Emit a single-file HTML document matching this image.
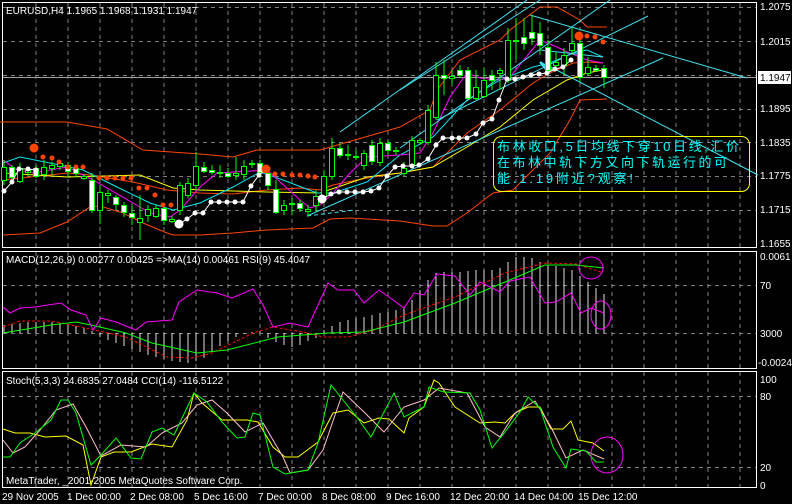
<!DOCTYPE html>
<html><head><meta charset="utf-8"><style>
html,body{margin:0;padding:0;background:#000;}
svg{display:block;}
text{font-family:"Liberation Sans","Noto Sans CJK SC",sans-serif;font-size:10px;fill:#fff;}
</style></head><body>
<svg width="792" height="504" viewBox="0 0 792 504" xmlns="http://www.w3.org/2000/svg">
<rect width="792" height="504" fill="#000"/>
<!-- grids -->
<g stroke="#7f7f7f" stroke-width="1" stroke-dasharray="4,4" fill="none">
<path d="M36 3V247M68 3V247M100 3V247M132 3V247M164 3V247M196 3V247M228 3V247M260 3V247M292 3V247M324 3V247M356 3V247M388 3V247M420 3V247M452 3V247M484 3V247M516 3V247M548 3V247M580 3V247M612 3V247M644 3V247M676 3V247M708 3V247M740 3V247"/>
<path d="M3 7.5H756M3 41.5H756M3 75.5H756M3 109.5H756M3 142.5H756M3 176.5H756M3 210.5H756"/>
<path d="M36 252V368M68 252V368M100 252V368M132 252V368M164 252V368M196 252V368M228 252V368M260 252V368M292 252V368M324 252V368M356 252V368M388 252V368M420 252V368M452 252V368M484 252V368M516 252V368M548 252V368M580 252V368M612 252V368M644 252V368M676 252V368M708 252V368M740 252V368"/>
<path d="M3 285.5H756M3 333.5H756"/>
<path d="M36 372V487M68 372V487M100 372V487M132 372V487M164 372V487M196 372V487M228 372V487M260 372V487M292 372V487M324 372V487M356 372V487M388 372V487M420 372V487M452 372V487M484 372V487M516 372V487M548 372V487M580 372V487M612 372V487M644 372V487M676 372V487M708 372V487M740 372V487"/>
<path d="M3 396.5H756M3 467.5H756"/>
</g>
<line x1="3" y1="77.5" x2="756" y2="77.5" stroke="#a0a0a0"/>
<!-- panel borders -->
<g fill="none" stroke="#fff" stroke-width="1">
<rect x="2.5" y="2.5" width="754" height="245"/>
<rect x="2.5" y="251.5" width="754" height="117"/>
<rect x="2.5" y="371.5" width="754" height="116"/>
</g>
<!-- Bollinger -->
<g fill="none" stroke-width="1">
<polyline stroke="#ff4500" points="0,122 67,122 107,129 143,150 200,154 233,157 257,150 320,150 400,127 430,110 437,90 460,60 500,40 510,30 540,7 557,7 580,20 587,27 607,27"/>
<polyline stroke="#ff4500" points="3,235 40,233 67,222 90,207 100,206 123,213 143,223 167,233 173,235 200,235 233,233 267,230 313,228 330,219 350,218 400,221 433,226 447,226 467,213 493,193 513,190 550,153 570,120 580,100 607,99"/>
<polyline stroke="#ff4500" points="3,180 67,173 90,175 133,182 167,190 200,193 233,194 267,190 300,188 320,190 333,185 367,178 400,173 433,167 467,133 500,110 533,83 550,73 573,63 587,62 603,63"/>
<polyline stroke="#ffff00" points="3,173 67,177 140,175 173,188 200,190 267,192 320,193 367,177 400,173 433,167 467,147 500,127 533,100 567,80 587,73 603,70"/>
<polyline stroke="#00e5ee" points="3,163 20,157 50,163 83,170 117,187 150,203 173,210 200,203 233,187 260,172 283,180 317,193 333,193 367,182 400,155 433,137 467,100 500,80 533,67 550,63 573,53 587,50 603,57"/>
<polyline stroke="#ff00ff" points="3,160 17,170 33,173 67,167 93,180 133,203 150,213 170,217 180,210 200,187 217,173 233,172 267,170 300,200 310,208 320,205 333,193 350,173 367,157 400,155 420,153 433,133 450,97 467,73 480,78 500,80 510,77 540,40 557,47 567,52 580,57 587,60 603,63"/>
</g>
<!-- trend lines -->
<g stroke="#40e0f0" stroke-width="1" fill="none">
<line x1="340" y1="132" x2="527" y2="0"/>
<line x1="400" y1="148" x2="610" y2="0"/>
<line x1="437" y1="120" x2="648" y2="16"/>
<line x1="307" y1="216" x2="663" y2="58"/>
<line x1="530" y1="15" x2="747" y2="78"/>
<line x1="547" y1="65" x2="758" y2="175"/>
<line x1="540" y1="50" x2="603" y2="57"/>
<line x1="307" y1="216" x2="355" y2="210" stroke-dasharray="4,3"/>
<line x1="400" y1="90" x2="540" y2="0"/>
</g>
<path d="M540 62 L552 70 L548 72 Z" fill="#40e0f0" stroke="#40e0f0" stroke-width="2"/>
<!-- candles wicks -->
<g stroke="#00ff00" stroke-width="1" fill="none">
<path d="M4 160V185M12 165V180M20 163V183M28 168V176M36 165V178M44 160V180M52 162V175M60 160V170M68 162V177M76 165V177M84 174V180M92 173V213M100 185V224M108 190V203M116 195V210M124 202V217M132 205V225M140 195V240M148 205V222M156 205V218M164 205V225M172 216V223M180 182V215M188 178V198M196 152V190M204 162V173M212 165V175M220 165V178M228 168V178M236 157V180M244 160V180M252 160V168M260 160V178M268 170V190M276 180V214M284 200V215M292 198V215M300 200V212M308 205V216M316 190V212M324 170V203M332 138V180M340 143V158M348 145V160M356 150V160M364 150V170M372 140V165M380 138V166M388 140V155M396 147V155M404 162V176M412 136V168M420 138V145M428 105V145M436 62V120M444 60V95M452 70V85M460 65V78M468 67V100M476 70V100M484 68V98M492 70V90M500 68V90M508 28V83M516 18V60M524 18V50M532 15V45M540 22V55M548 40V75M556 52V70M564 48V75M572 28V55M580 35V82M588 57V76M596 65V72M604 65V88"/>
</g>
<g stroke="#00ff00" stroke-width="1" fill="#000">
<rect x="1.5" y="167.5" width="5" height="13"/><rect x="17.5" y="168.5" width="5" height="13"/><rect x="25.5" y="170.5" width="5" height="2"/><rect x="41.5" y="167.5" width="5" height="7"/><rect x="49.5" y="165.5" width="5" height="3"/><rect x="57.5" y="163.5" width="5" height="3"/><rect x="81.5" y="176.5" width="5" height="2"/><rect x="97.5" y="192.5" width="5" height="18"/><rect x="105.5" y="193.5" width="5" height="2"/><rect x="137.5" y="218.5" width="5" height="4"/><rect x="145.5" y="209.5" width="5" height="6"/><rect x="153.5" y="208.5" width="5" height="8"/><rect x="169.5" y="219.5" width="5" height="2"/><rect x="177.5" y="185.5" width="5" height="25"/><rect x="185.5" y="183.5" width="5" height="12"/><rect x="193.5" y="166.5" width="5" height="19"/><rect x="217.5" y="172.5" width="5" height="1"/><rect x="233.5" y="173.5" width="5" height="2"/><rect x="241.5" y="166.5" width="5" height="8"/><rect x="249.5" y="163.5" width="5" height="1"/><rect x="281.5" y="205.5" width="5" height="5"/><rect x="289.5" y="203.5" width="5" height="1"/><rect x="305.5" y="209.5" width="5" height="2"/><rect x="313.5" y="196.5" width="5" height="9"/><rect x="321.5" y="176.5" width="5" height="20"/><rect x="329.5" y="148.5" width="5" height="28"/><rect x="345.5" y="154.5" width="5" height="1"/><rect x="353.5" y="156.5" width="5" height="1"/><rect x="361.5" y="153.5" width="5" height="12"/><rect x="377.5" y="143.5" width="5" height="19"/><rect x="393.5" y="150.5" width="5" height="1"/><rect x="401.5" y="168.5" width="5" height="5"/><rect x="409.5" y="140.5" width="5" height="25"/><rect x="417.5" y="140.5" width="5" height="2"/><rect x="425.5" y="110.5" width="5" height="32"/><rect x="433.5" y="75.5" width="5" height="42"/><rect x="449.5" y="76.5" width="5" height="2"/><rect x="473.5" y="87.5" width="5" height="11"/><rect x="481.5" y="80.5" width="5" height="16"/><rect x="497.5" y="70.5" width="5" height="3"/><rect x="505.5" y="40.5" width="5" height="40"/><rect x="513.5" y="40.5" width="5" height="1"/><rect x="553.5" y="62.5" width="5" height="3"/><rect x="561.5" y="55.5" width="5" height="10"/><rect x="569.5" y="43.5" width="5" height="7"/><rect x="585.5" y="67.5" width="5" height="6"/>
</g>
<g stroke="#00ff00" stroke-width="1" fill="#fff">
<rect x="9.5" y="167.5" width="5" height="10"/><rect x="33.5" y="168.5" width="5" height="8"/><rect x="65.5" y="165.5" width="5" height="6"/><rect x="73.5" y="168.5" width="5" height="5"/><rect x="89.5" y="180.5" width="5" height="30"/><rect x="113.5" y="197.5" width="5" height="7"/><rect x="121.5" y="205.5" width="5" height="7"/><rect x="129.5" y="213.5" width="5" height="4"/><rect x="161.5" y="208.5" width="5" height="12"/><rect x="201.5" y="167.5" width="5" height="4"/><rect x="209.5" y="170.5" width="5" height="2"/><rect x="225.5" y="173.5" width="5" height="3"/><rect x="257.5" y="163.5" width="5" height="9"/><rect x="265.5" y="173.5" width="5" height="12"/><rect x="273.5" y="189.5" width="5" height="23"/><rect x="297.5" y="203.5" width="5" height="5"/><rect x="337.5" y="148.5" width="5" height="7"/><rect x="369.5" y="145.5" width="5" height="16"/><rect x="385.5" y="143.5" width="5" height="7"/><rect x="441.5" y="75.5" width="5" height="3"/><rect x="457.5" y="70.5" width="5" height="5"/><rect x="465.5" y="70.5" width="5" height="28"/><rect x="489.5" y="75.5" width="5" height="5"/><rect x="521.5" y="37.5" width="5" height="6"/><rect x="529.5" y="32.5" width="5" height="6"/><rect x="537.5" y="33.5" width="5" height="12"/><rect x="545.5" y="47.5" width="5" height="23"/><rect x="577.5" y="43.5" width="5" height="34"/><rect x="593.5" y="68.5" width="5" height="2"/><rect x="601.5" y="68.5" width="5" height="9"/>
</g>
<!-- white dots -->
<g fill="#fff" stroke="#fff">
<polyline fill="none" points="4,191 12,182 19,169 28,169 36,170"/>
<polyline fill="none" points="179,224 187,219 195,213 203,213 211,202 219,202 227,202 235,202 243,202 251,186 259,175 267,169"/>
<polyline fill="none" points="322,199 331,194 339,192 347,192 355,192 363,192 371,191 379,188 387,176 395,167 403,166 412,166 419,165 428,159 436,145 443,138 452,138 459,138 467,138 476,134 483,123 492,119 499,100 507,79 515,79 523,77 531,75 539,74 547,73 555,69 563,67 571,60"/>
<g stroke="none">
<circle cx="4" cy="191" r="2.5"/><circle cx="12" cy="182" r="2.5"/><circle cx="19" cy="169" r="2.5"/><circle cx="28" cy="169" r="2.5"/><circle cx="36" cy="170" r="2.5"/>
<circle cx="179" cy="224" r="4.5"/><circle cx="187" cy="219" r="2.5"/><circle cx="195" cy="213" r="2.5"/><circle cx="203" cy="213" r="2.5"/><circle cx="211" cy="202" r="2.5"/><circle cx="219" cy="202" r="2.5"/><circle cx="227" cy="202" r="2.5"/><circle cx="235" cy="202" r="2.5"/><circle cx="243" cy="202" r="2.5"/><circle cx="251" cy="186" r="2.5"/><circle cx="259" cy="175" r="2.5"/><circle cx="267" cy="169" r="2.5"/>
<circle cx="322" cy="199" r="4.5"/><circle cx="331" cy="194" r="2.5"/><circle cx="339" cy="192" r="2.5"/><circle cx="347" cy="192" r="2.5"/><circle cx="355" cy="192" r="2.5"/><circle cx="363" cy="192" r="2.5"/><circle cx="371" cy="191" r="2.5"/><circle cx="379" cy="188" r="2.5"/><circle cx="387" cy="176" r="2.5"/><circle cx="395" cy="167" r="2.5"/><circle cx="403" cy="166" r="2.5"/><circle cx="412" cy="166" r="2.5"/><circle cx="419" cy="165" r="2.5"/><circle cx="428" cy="159" r="2.5"/><circle cx="436" cy="145" r="2.5"/><circle cx="443" cy="138" r="2.5"/><circle cx="452" cy="138" r="2.5"/><circle cx="459" cy="138" r="2.5"/><circle cx="467" cy="138" r="2.5"/><circle cx="476" cy="134" r="2.5"/><circle cx="483" cy="123" r="2.5"/><circle cx="492" cy="119" r="2.5"/><circle cx="499" cy="100" r="2.5"/><circle cx="507" cy="79" r="2.5"/><circle cx="515" cy="79" r="2.5"/><circle cx="523" cy="77" r="2.5"/><circle cx="531" cy="75" r="2.5"/><circle cx="539" cy="74" r="2.5"/><circle cx="547" cy="73" r="2.5"/><circle cx="555" cy="69" r="2.5"/><circle cx="563" cy="67" r="2.5"/><circle cx="571" cy="60" r="2.5"/>
</g></g>
<!-- orange dots -->
<g fill="#ff4500">
<circle cx="34" cy="148" r="4.5"/><circle cx="43" cy="157" r="2.5"/><circle cx="52" cy="158" r="2.5"/><circle cx="59" cy="162" r="2.5"/><circle cx="68" cy="167" r="2.5"/><circle cx="76" cy="167" r="2.5"/><circle cx="83" cy="167" r="2.5"/><circle cx="99" cy="178" r="2.5"/><circle cx="107" cy="178" r="2.5"/><circle cx="115" cy="178" r="2.5"/><circle cx="123" cy="178" r="2.5"/><circle cx="131" cy="178" r="2.5"/><circle cx="139" cy="188" r="2.5"/><circle cx="147" cy="188" r="2.5"/><circle cx="155" cy="195" r="2.5"/><circle cx="163" cy="205" r="2.5"/><circle cx="171" cy="205" r="2.5"/>
<circle cx="266" cy="169" r="4.5"/><circle cx="275" cy="174" r="2.5"/><circle cx="283" cy="174" r="2.5"/><circle cx="292" cy="175" r="2.5"/><circle cx="300" cy="175" r="2.5"/><circle cx="308" cy="176" r="2.5"/><circle cx="315" cy="177" r="2.5"/>
<circle cx="579" cy="36" r="4.5"/><circle cx="587" cy="36" r="2.5"/><circle cx="595" cy="37" r="2.5"/><circle cx="603" cy="42" r="2.5"/>
</g>
<!-- annotation -->
<rect x="493.5" y="136.5" width="256" height="55" rx="8" fill="none" stroke="#ffff00"/>
<g style="font-size:13px;fill:#00ffff;font-family:'Liberation Sans','Noto Sans CJK SC',sans-serif">
<text x="497" y="151" style="font-size:13px;fill:#00ffff" textLength="242">布林收口,5日均线下穿10日线,汇价</text>
<text x="497" y="167" style="font-size:13px;fill:#00ffff" textLength="230">在布林中轨下方又向下轨运行的可</text>
<text x="497" y="183" style="font-size:13px;fill:#00ffff" textLength="136">能.1.19附近?观察!</text>
</g>
<!-- MACD histogram -->
<path stroke="#e0e0e0" stroke-width="1" fill="none" d="M4 333V325M12 333V324M20 333V323M28 333V322M36 333V322M44 333V322M52 333V322M60 333V323M68 333V324M76 333V326M84 333V328M92 333V331M100 333V337M108 333V340M116 333V343M124 333V346M132 333V349M140 333V352M148 333V355M156 333V357M164 333V359M172 333V361M180 333V362M188 333V363M196 333V361M204 333V358M212 333V352M220 333V346M228 333V341M236 333V337M244 333V334M252 333V332M260 333V331M268 333V338M276 333V342M284 333V345M292 333V347M300 333V345M308 333V341M316 333V338M324 333V330M332 333V326M340 333V322M348 333V320M356 333V318M364 333V317M372 333V315M380 333V313M388 333V312M396 333V310M404 333V308M412 333V300M420 333V290M428 333V280M436 333V273M444 333V272M452 333V272M460 333V272M468 333V271M476 333V270M484 333V270M492 333V270M500 333V268M508 333V262M516 333V257M524 333V257M532 333V258M540 333V262M548 333V265M556 333V266M564 333V268M572 333V270M580 333V276M588 333V282M596 333V288M604 333V294"/>
<polyline fill="none" stroke="#ff0000" stroke-dasharray="3,2" points="3,327 20,321 51,321 81,327 126,337 167,357 192,358 212,353 253,333 273,327 303,332 323,337 348,337 374,330 404,315 455,297 505,273 545,263 576,264 601,272"/>
<polyline fill="none" stroke="#00ff00" points="3,333 51,325 76,322 91,325 126,333 152,343 197,353 227,350 278,337 328,333 364,332 404,322 455,303 505,282 545,265 576,265 604,268"/>
<polyline fill="none" stroke="#ff00ff" points="3,307 10,313 20,308 35,307 61,303 71,310 86,315 93,330 101,318 116,322 136,330 146,322 172,320 179,302 197,290 217,293 232,298 253,289 263,305 273,327 290,323 308,327 328,283 338,290 354,290 364,303 379,290 389,297 404,308 414,293 424,295 437,274 455,276 470,295 480,282 500,292 510,281 530,277 545,303 556,302 571,293 581,313 591,308 604,313"/>
<ellipse cx="591" cy="268" rx="12" ry="11" fill="none" stroke="#ff00ff"/>
<ellipse cx="601" cy="315" rx="10" ry="14" fill="none" stroke="#ff00ff"/>
<!-- Stoch / CCI -->
<polyline fill="none" stroke="#ffff00" points="3,429 15,433 30,433 45,437 66,436 83,445 91,485 101,457 114,452 131,452 152,444 172,447 187,420 194,393 202,403 222,420 247,420 258,422 273,447 285,457 298,457 318,442 333,413 348,410 364,423 379,418 389,419 404,433 409,418 424,407 434,380 439,383 455,407 480,423 495,422 505,423 515,413 528,407 540,407 551,429 563,429 571,421 578,440 593,443 604,451"/>
<polyline fill="none" stroke="#ffc0cb" points="3,440 13,453 25,447 40,430 56,410 73,404 86,427 101,456 121,445 146,447 162,433 182,423 197,405 212,400 227,413 245,432 263,423 283,457 290,473 308,470 323,450 343,392 364,412 384,432 404,407 424,400 439,388 467,393 485,427 500,437 515,413 535,401 551,427 566,458 583,450 604,459"/>
<polyline fill="none" stroke="#00ff00" points="3,457 10,457 20,443 35,433 51,420 61,400 68,400 76,413 91,465 101,455 116,438 131,458 141,459 152,432 162,428 174,435 194,393 207,402 222,422 237,438 245,437 253,413 260,415 273,467 285,474 308,470 318,443 331,385 343,400 359,420 371,437 394,393 404,417 424,407 429,387 444,392 470,393 480,410 492,448 505,432 520,412 528,397 540,408 553,447 566,468 571,449 586,451 596,462 604,462"/>
<ellipse cx="607" cy="455" rx="16" ry="18" fill="none" stroke="#ff00ff"/>
<!-- text -->
<text x="6" y="14">EURUSD,H4  1.1965 1.1968 1.1931 1.1947</text>
<text x="6" y="263">MACD(12,26,9) 0.00277 0.00425  =&gt;MA(14) 0.00461  RSI(9) 45.4047</text>
<text x="6" y="384">Stoch(5,3,3) 24.6835 27.0484  CCI(14) -116.5122</text>
<text x="6" y="484">MetaTrader, _2001-2005 MetaQuotes Software Corp.</text>
<g>
<text x="760" y="10">1.2075</text>
<text x="760" y="45">1.2015</text>
<text x="760" y="112">1.1895</text>
<text x="760" y="146">1.1835</text>
<text x="760" y="179">1.1775</text>
<text x="760" y="213">1.1715</text>
<text x="760" y="247">1.1655</text>
<rect x="758" y="71" width="33" height="13" fill="#fff"/>
<text x="760" y="81" style="fill:#000">1.1947</text>
<text x="760" y="260">0.0061</text>
<text x="760" y="289">70</text>
<text x="760" y="337">3000</text>
<text x="758" y="366">-0.0024</text>
<text x="760" y="383">100</text>
<text x="760" y="400">80</text>
<text x="760" y="471">20</text>
<text x="760" y="489">0</text>
</g>
<g>
<text x="2" y="500">29 Nov 2005</text>
<text x="67" y="500">1 Dec 00:00</text>
<text x="130" y="500">2 Dec 08:00</text>
<text x="194" y="500">5 Dec 16:00</text>
<text x="258" y="500">7 Dec 00:00</text>
<text x="322" y="500">8 Dec 08:00</text>
<text x="386" y="500">9 Dec 16:00</text>
<text x="450" y="500">12 Dec 20:00</text>
<text x="514" y="500">14 Dec 04:00</text>
<text x="578" y="500">15 Dec 12:00</text>
</g>
</svg>
</body></html>
